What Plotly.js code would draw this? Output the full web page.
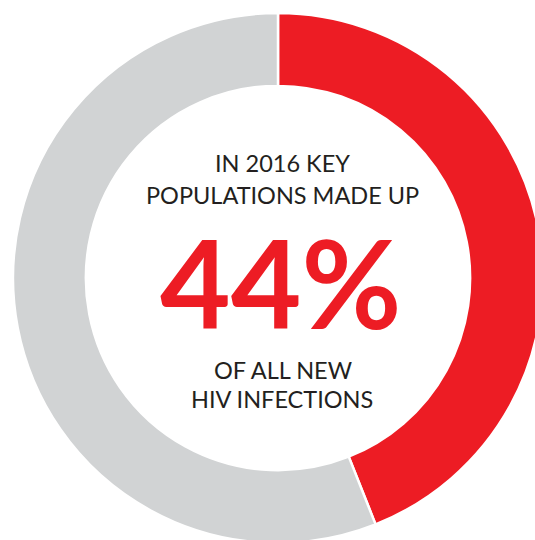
<!DOCTYPE html>
<html>
<head>
<meta charset="utf-8">
<script src="https://cdn.plot.ly/plotly-3.0.1.min.js"></script>
<style>
html,body{margin:0;padding:0;background:#fff;overflow:hidden;width:535px;height:540px;}
#chart{width:556px;height:556px;}
</style>
</head>
<body>
<div id="chart"></div>
<script>
const categories = ["Key populations", "Rest of population"];
const shares = [44, 56];
const colors = ["#ED1C24", "#D1D3D4"];
const headline = "44%";
const topLines = ["IN 2016 KEY", "POPULATIONS MADE UP"];
const bottomLines = ["OF ALL NEW", "HIV INFECTIONS"];

const W = 556, H = 556;
const px = x => x / W;
const py = y => 1 - y / H;
const smallFont = {family: "Lato, 'Noto Sans', sans-serif", size: 23.5, color: "#231F20", weight: 400};

const annotations = [
  {text: topLines[0], x: px(282), y: py(163), font: smallFont},
  {text: topLines[1], x: px(282), y: py(195), font: smallFont},
  {text: headline, x: px(281), y: py(282), font: {family: "Lato, 'Noto Sans', sans-serif", size: 122, color: "#ED1C24", weight: 700}},
  {text: bottomLines[0], x: px(283), y: py(370), font: smallFont},
  {text: bottomLines[1], x: px(282), y: py(399), font: smallFont}
].map(a => Object.assign({xref: "paper", yref: "paper", showarrow: false, xanchor: "center", yanchor: "middle"}, a));

Plotly.newPlot("chart", [{
  type: "pie",
  labels: categories,
  values: shares,
  hole: 0.725,
  sort: false,
  direction: "clockwise",
  rotation: 0,
  textinfo: "none",
  hoverinfo: "none",
  marker: {colors: colors, line: {color: "#ffffff", width: 2.5}},
  domain: {x: [13 / W, 543 / W], y: [13 / H, 543 / H]}
}], {
  width: W, height: H,
  margin: {l: 0, r: 0, t: 0, b: 0},
  showlegend: false,
  paper_bgcolor: "#ffffff",
  annotations: annotations
}, {displayModeBar: false, staticPlot: true});
</script>
</body>
</html>
